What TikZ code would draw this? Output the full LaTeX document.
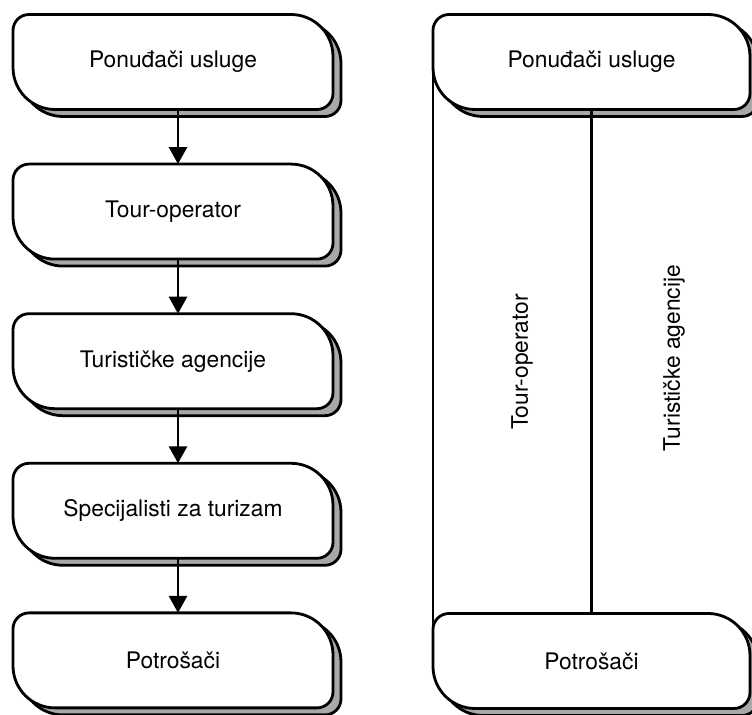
\documentclass[tikz,border=0pt]{standalone}
\usepackage{fontspec}
\setmainfont{TeX Gyre Heros}
\usetikzlibrary{arrows.meta,backgrounds}

\definecolor{boxshade}{gray}{0.66}

% outline of a box: small round corners top left / bottom right, big ones on the others
\newcommand{\chanoutline}[2]{%
  \draw[#2] ([xshift=8pt]#1.north west) -- ([xshift=-21pt]#1.north east)
    arc[start angle=90,end angle=0,radius=21pt] -- ([yshift=8pt]#1.south east)
    arc[start angle=0,end angle=-90,radius=8pt] -- ([xshift=21pt]#1.south west)
    arc[start angle=270,end angle=180,radius=21pt] -- ([yshift=-8pt]#1.north west)
    arc[start angle=180,end angle=90,radius=8pt] -- cycle;}
% shadow and white face behind a named node
\newcommand{\chanframe}[1]{%
  \begin{scope}[on background layer]
    \chanoutline{#1}{boxline,fill=boxshade,transform canvas={shift={(4pt,-3.5pt)}}}
    \chanoutline{#1}{boxline,fill=white}
  \end{scope}}

\begin{document}
\begin{tikzpicture}[x=0.5pt,y=-0.5pt,
    boxline/.style={line width=1.4pt,line join=round},
    flowbox/.style={inner sep=0pt,outer sep=0pt,minimum width=160pt,minimum height=47.5pt,
      font=\fontsize{11.4pt}{13pt}\selectfont},
    sidebox/.style={flowbox,minimum width=158.5pt},
    sidelabel/.style={rotate=90,font=\fontsize{11.4pt}{13pt}\selectfont},
    flowarrow/.style={line width=1.4pt,-{Triangle[length=8.5pt,width=9pt]}}]
  \useasboundingbox (0,0) rectangle (752,715);

  % chain on the left
  \node[flowbox] (pon)  at (173,62)    {Ponuđači usluge};
  \node[flowbox] (tour) at (173,211.6) {Tour-operator};
  \node[flowbox] (agen) at (173,361.2) {Turističke agencije};
  \node[flowbox] (spec) at (173,510.8) {Specijalisti za turizam};
  \node[flowbox] (potr) at (173,660.4) {Potrošači};
  \foreach \n in {pon,tour,agen,spec,potr} {\chanframe{\n}}

  \draw[flowarrow] ([xshift=2.5pt]pon.south)  -- ([xshift=2.5pt]tour.north);
  \draw[flowarrow] ([xshift=2.5pt]tour.south) -- ([xshift=2.5pt]agen.north);
  \draw[flowarrow] ([xshift=2.5pt]agen.south) -- ([xshift=2.5pt]spec.north);
  \draw[flowarrow] ([xshift=2.5pt]spec.south) -- ([xshift=2.5pt]potr.north);

  % direct channel on the right
  \node[sidebox] (ponR) at (591.5,62)  {Ponuđači usluge};
  \node[sidebox] (potR) at (591.5,661) {Potrošači};
  \chanframe{ponR}
  \chanframe{potR}
  \draw[boxline] (ponR.west) -- (potR.west);
  \draw[boxline] (ponR.south) -- (potR.north);

  \node[sidelabel] (lblTour) at (522,362) {Tour-operator};
  \node[sidelabel] (lblAgen) at (674,358) {Turističke agencije};
\end{tikzpicture}
\end{document}
